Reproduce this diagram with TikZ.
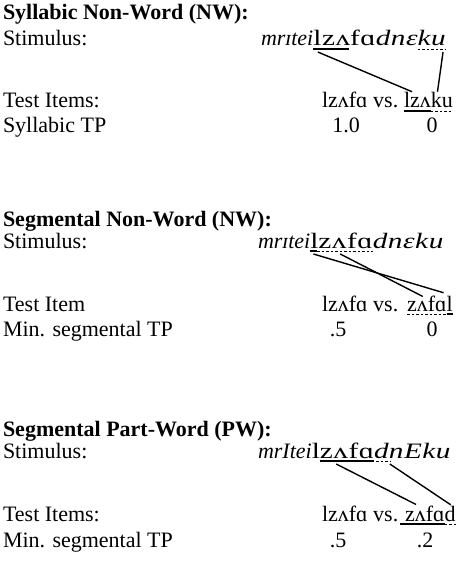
\documentclass[tikz,border=0pt]{standalone}
\usepackage{fontspec}
\setmainfont{Liberation Serif}
\usetikzlibrary{calc}
\begin{document}
\begin{tikzpicture}[x=1pt,y=-1pt,
  font=\fontsize{22}{26}\selectfont,
  txt/.style={anchor=base west, inner sep=0pt, outer sep=0pt},
  stima/.style={txt, font=\fontsize{22}{26}\selectfont\itshape},
  stimb/.style={txt, font=\fontsize{22}{26}\selectfont\addfontfeature{FakeStretch=1.33,LetterSpace=2.5}},
  val/.style={anchor=base, inner sep=0pt, outer sep=0pt},
  ttl/.style={txt, font=\fontsize{22}{26}\selectfont\bfseries},
  solidul/.style={line width=2.6pt},
  dashul/.style={line width=0.9pt, dash pattern=on 2.5pt off 2pt},
  conn/.style={line width=1.4pt}]
\useasboundingbox (0,0) rectangle (465,588);
% ---------- Section 1
\node[ttl] (t1) at (3,20) {Syllabic Non-Word (NW):};
\node[txt] (l1a) at (3,46) {Stimulus:};
\node[stima] (s1a) at (261,46) {mrɪtei};
\node[stimb] (s1b) at (s1a.base east) {lzʌ};
\node[stimb] (s1c) at (s1b.base east) {fɑ};
\node[stimb] (s1d) at (s1c.base east) {\itshape dnɛ};
\node[stimb] (s1e) at (s1d.base east) {\itshape ku};
\node[txt] (l1b) at (3,108) {Test Items:};
\node[txt] (i1a) at (322,108) {lzʌfɑ vs.};
\node[txt] (i1b) at (404,108) {lzʌ};
\node[txt] (i1c) at (i1b.base east) {ku};
\node[txt] (l1c) at (3,133) {Syllabic TP};
\node[val] (v1a) at (346,133) {1.0};
\node[val] (v1b) at (432,133) {0};
\draw[solidul] ([yshift=-3pt]s1b.base west) -- ([xshift=-1pt,yshift=-3pt]s1b.base east);
\draw[dashul] ([yshift=-3pt]s1e.base west) -- ([yshift=-3pt]s1e.base east);
\draw[solidul] ([yshift=-3pt]i1b.base west) -- ([yshift=-3pt]i1b.base east);
\draw[dashul] ([yshift=-3pt]i1c.base west) -- ([yshift=-3pt]i1c.base east);
\coordinate (c1a) at ($([yshift=-6pt]s1b.base west)!0.12!([yshift=-6pt]s1b.base east)$);
\coordinate (c1b) at ($([yshift=1pt]i1b.north west)!0.3!([yshift=1pt]i1b.north east)$);
\coordinate (c1c) at ($([yshift=-6pt]s1e.base west)!0.9!([yshift=-6pt]s1e.base east)$);
\coordinate (c1d) at ($([yshift=1pt]i1c.north west)!0.3!([yshift=1pt]i1c.north east)$);
\draw[conn] (c1a) -- (c1b);
\draw[conn] (c1c) -- (c1d);
% ---------- Section 2
\node[ttl] (t2) at (3,226) {Segmental Non-Word (NW):};
\node[txt] (l2a) at (3,248) {Stimulus:};
\node[stima] (s2a) at (258,248) {mrɪtei};
\node[stimb] (s2b) at (s2a.base east) {l};
\node[stimb] (s2c) at (s2b.base east) {zʌfɑ};
\node[stimb] (s2d) at (s2c.base east) {\itshape dnɛku};
\node[txt] (l2b) at (3,311) {Test Item};
\node[txt] (i2a) at (322,311) {lzʌfɑ vs.};
\node[txt] (i2b) at (407,311) {zʌfɑ};
\node[txt] (i2c) at (i2b.base east) {l};
\node[txt] (l2c) at (3,336) {Min. segmental TP};
\node[val] (v2a) at (338,336) {.5};
\node[val] (v2b) at (432,336) {0};
\draw[solidul] ([yshift=-3pt]s2b.base west) -- ([xshift=-1pt,yshift=-3pt]s2b.base east);
\draw[dashul] ([xshift=-1pt,yshift=-3pt]s2c.base west) -- ([yshift=-3pt]s2c.base east);
\draw[dashul] ([yshift=-3pt]i2b.base west) -- ([yshift=-3pt]i2b.base east);
\draw[solidul] ([yshift=-3pt]i2c.base west) -- ([yshift=-3pt]i2c.base east);
\coordinate (c2a) at ([xshift=-1pt,yshift=-6pt]s2b.base);
\coordinate (c2b) at ([xshift=-3pt,yshift=3pt]i2c.north west);
\coordinate (c2c) at ($([yshift=-6pt]s2c.base west)!0.4!([yshift=-6pt]s2c.base east)$);
\coordinate (c2d) at ($([yshift=-1pt]i2b.north west)!0.4!([yshift=-1pt]i2b.north east)$);
\draw[conn] (c2a) -- (c2b);
\draw[conn] (c2c) -- (c2d);
% ---------- Section 3
\node[ttl] (t3) at (3,436) {Segmental Part-Word (PW):};
\node[txt] (l3a) at (3,458) {Stimulus:};
\node[stima] (s3a) at (258,458) {mrItei};
\node[stimb] (s3b) at (s3a.base east) {l};
\node[stimb] (s3c) at (s3b.base east) {zʌfɑ};
\node[stimb] (s3d) at (s3c.base east) {\itshape d};
\node[stimb] (s3e) at (s3d.base east) {\itshape nEku};
\node[txt] (l3b) at (3,521) {Test Items:};
\node[txt] (i3a) at (322,521) {lzʌfɑ vs.};
\node[txt] (i3b) at (405,521) {zʌfɑ};
\node[txt] (i3c) at (i3b.base east) {d};
\node[txt] (l3c) at (3,547) {Min. segmental TP};
\node[val] (v3a) at (338,547) {.5};
\node[val] (v3b) at (425,547) {.2};
\draw[solidul] ([yshift=-3pt]s3c.base west) -- ([yshift=-3pt]s3c.base east);
\draw[dashul] ([xshift=2pt,yshift=-3pt]s3d.base west) -- ([xshift=2pt,yshift=-3pt]s3d.base east);
\draw[solidul] ([xshift=-5pt,yshift=-3pt]i3b.base west) -- ([yshift=-3pt]i3b.base east);
\draw[dashul] ([yshift=-3pt]i3c.base west) -- ([yshift=-3pt]i3c.base east);
\coordinate (c3a) at ($([yshift=-6pt]s3c.base west)!0.3!([yshift=-6pt]s3c.base east)$);
\coordinate (c3b) at ($([yshift=1pt]i3b.north west)!0.28!([yshift=1pt]i3b.north east)$);
\coordinate (c3c) at ([xshift=1pt,yshift=-6pt]s3d.base east);
\coordinate (c3d) at ($([yshift=1pt]i3c.north west)!0.55!([yshift=1pt]i3c.north east)$);
\draw[conn] (c3a) -- (c3b);
\draw[conn] (c3c) -- (c3d);
\end{tikzpicture}
\end{document}
